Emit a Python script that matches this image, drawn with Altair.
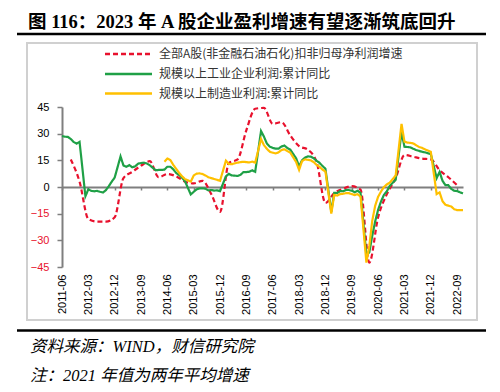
import altair as alt
import pandas as pd

# ---------------- text ----------------
title_text = "图 116：2023 年 A 股企业盈利增速有望逐渐筑底回升"
source_text = "资料来源：WIND，财信研究院"
note_text = "注：2021 年值为两年平均增速"

s_red = "全部A股(非金融石油石化)扣非归母净利润增速"
s_green = "规模以上工业企业利润:累计同比"
s_yellow = "规模以上制造业利润:累计同比"
series_names = [s_red, s_green, s_yellow]

# ---------------- data ----------------
# quarterly: 2011-09 ... 2022-09
red_values = [15.5, 3.0,
              -18.0, -19.5, -19.5, -17.0,
              5.0, 8.5, 12.0, 14.5,
              5.5, 7.3, 6.0, 3.0,
              2.0, 3.5, -4.0, -14.0,
              13.5, 15.5, 32.0, 44.0,
              44.5, 35.5, 36.5, 29.0,
              23.0, 21.0, 14.0, -9.0,
              -3.5, -1.0, 0.5, -1.5,
              -42.5, -17.0, -4.0, 5.0,
              18.0, 17.0, 16.0, 15.5,
              9.5, 5.5, 1.0]

# monthly (no January): 2011-06 ... 2022-11
green_values = [28.7, 28.3, 28.2, 27.0, 25.3, 24.4, 25.4,
                -5.2, -1.3, -2.2, -2.4, -2.2, -2.7, -3.1, -1.8, 0.5, 3.0, 5.3,
                17.2, 12.1, 11.4, 12.3, 11.1, 11.6, 13.1, 13.5, 13.7, 13.2, 12.2,
                9.4, 9.6, 9.6, 9.8, 11.4, 11.4, 10.0, 7.9, 6.7, 5.3, 3.3,
                -4.2, -2.7, -1.3, -0.8, -0.7, -1.0, -1.9, -1.7, -2.0, -1.9, -2.3,
                6.0, 7.4, 6.5, 6.4, 6.2, 6.9, 8.4, 8.4, 8.6, 9.4, 8.5,
                31.5, 28.3, 24.4, 22.7, 22.0, 21.6, 21.6, 22.8, 23.3, 21.9, 21.0,
                16.1, 11.6, 15.0, 16.5, 17.2, 17.1, 16.2, 14.7, 13.6, 11.8, 10.3,
                -14.0, -3.3, -3.4, -2.3, -2.4, -1.7, -1.7, -2.1, -2.9, -2.1, -3.3,
                -38.3, -36.7, -27.4, -19.3, -12.8, -8.1, -4.4, -2.4, 0.7, 2.4, 4.1,
                31.0, 22.6, 22.5, 22.3, 21.5, 20.8, 20.3, 19.8, 19.5, 19.0, 18.6,
                5.0, 8.5, 3.5, 1.0, 1.0, -1.1, -2.1, -2.3, -3.0, -3.6]

# monthly (no January): 2014-05 ... 2022-11
yellow_values = [14.2, 16.0, 15.2, 12.5, 10.2, 8.0, 6.0, 4.5,
                 3.0, 6.5, 7.5, 7.7, 7.3, 6.5, 5.5, 5.0, 4.5, 4.0, 3.5,
                 14.8, 13.0, 12.8, 13.3, 13.7, 14.0, 14.2, 14.0, 13.8, 14.3, 13.7,
                 27.0, 23.5, 21.5, 19.8, 19.3, 18.9, 19.5, 20.8, 21.2, 20.2, 19.3,
                 14.0, 9.6, 14.5, 15.5, 15.3, 15.0, 14.0, 12.4, 11.3, 9.8, 8.7,
                 -15.0, -4.5, -4.8, -4.0, -3.8, -3.5, -3.5, -4.0, -4.5, -4.0, -5.5,
                 -42.5, -33.0, -19.0, -10.5, -5.5, -2.5, 0.0, 1.5, 2.5, 4.5, 6.5,
                 35.5, 25.5, 25.0, 24.8, 24.5, 23.5, 22.5, 22.0, 21.2, 20.5, 19.8,
                 -4.0, -3.0, -8.0, -10.0, -10.5, -11.0, -12.5, -13.0, -13.0, -13.0]

y_ticks = [-45, -30, -15, 0, 15, 30, 45]


def months(start, end, step=1, skip_jan=False):
    out = []
    y, m = start
    while (y, m) <= end:
        if not (skip_jan and m == 1):
            out.append(y * 12 + m - 1)
        m += step
        while m > 12:
            m -= 12
            y += 1
    return out


red_idx = months((2011, 9), (2022, 9), step=3)
green_idx = months((2011, 6), (2022, 11), skip_jan=True)
yellow_idx = months((2014, 5), (2022, 11), skip_jan=True)
x_ticks = months((2011, 6), (2022, 9), step=9)

df_red = pd.DataFrame({"idx": red_idx, "value": red_values, "series": s_red})
df_gy = pd.concat([
    pd.DataFrame({"idx": green_idx, "value": green_values, "series": s_green}),
    pd.DataFrame({"idx": yellow_idx, "value": yellow_values, "series": s_yellow}),
])

RED = "#E8112D"
GREEN = "#1FA046"
YELLOW = "#FFC000"
GREY = "#7F7F7F"
BOX = "#D0D0D0"
COLORS = [RED, GREEN, YELLOW]
DASHES = [[5, 3], [1, 0], [1, 0]]

W, H = 401, 160

xscale = alt.Scale(domain=[2011 * 12 + 5, 2022 * 12 + 10], nice=False, zero=False)
yscale = alt.Scale(domain=[-45, 45], nice=False)

label_expr = ("floor(datum.value / 12) + '-' + "
              "((datum.value % 12) + 1 < 10 ? '0' : '') + ((datum.value % 12) + 1)")

x_enc = alt.X("idx:Q", scale=xscale, axis=alt.Axis(
    values=x_ticks, labelExpr=label_expr, title=None, grid=False,
    offset=-H / 2, domainColor=GREY, domainWidth=2,
    tickColor=GREY, tickSize=3, tickWidth=1.5,
    labelAngle=270, labelPadding=84, labelFontSize=11,
    labelFont="Liberation Sans", labelColor="#000000",
    labelOverlap=False, labelFlush=False, labelBound=False))

y_enc = alt.Y("value:Q", scale=yscale, axis=alt.Axis(
    values=y_ticks, title=None, grid=False,
    domainColor=GREY, domainWidth=2, tickColor=GREY, tickSize=5, tickWidth=1.5,
    labelPadding=8, labelFontSize=11, labelFont="Liberation Sans",
    labelColor=alt.condition("datum.value < 0", alt.value(RED), alt.value("#000000"))))

color_enc = alt.Color("series:N", scale=alt.Scale(domain=series_names, range=COLORS),
                      legend=None)
dash_enc = alt.StrokeDash("series:N", scale=alt.Scale(domain=series_names, range=DASHES),
                          legend=None)

red_line = alt.Chart(df_red).mark_line(strokeWidth=2.2, interpolate="monotone").encode(
    x=x_enc, y=y_enc, color=color_enc, strokeDash=dash_enc)
gy_line = alt.Chart(df_gy).mark_line(strokeWidth=2.2).encode(
    x=x_enc, y=y_enc, color=color_enc, strokeDash=dash_enc)

one = pd.DataFrame({"t": ["x"]})
top_rule = alt.Chart(one).mark_rule(color="#000000", strokeWidth=2.5).encode(
    x=alt.value(-45), x2=alt.value(424), y=alt.value(-73))
bottom_rule = alt.Chart(one).mark_rule(color="#000000", strokeWidth=2.5).encode(
    x=alt.value(-45), x2=alt.value(424), y=alt.value(223.5))

# grey frame drawn as four thin filled strips (pixel offsets from the plot origin)
edge_specs = [
    (-36, 416, -65, -63),   # top
    (-36, 416, 212, 214),   # bottom
    (-36, -34, -65, 214),   # left
    (414, 416, -65, 214),   # right
]
edge_layers = []
for i, (x1, x2, y1, y2) in enumerate(edge_specs):
    edge_layers.append(
        alt.Chart(pd.DataFrame({"edge": [i]})).mark_rect(color=BOX, opacity=1).encode(
            x=alt.value(x1), x2=alt.value(x2), y=alt.value(y1), y2=alt.value(y2)))

# manual legend
legend_rows = [-53, -33, -13.5]
legend_layers = []
for name, col, dash, ry in zip(series_names, COLORS, DASHES, legend_rows):
    ldf = pd.DataFrame({"t": [name]})
    legend_layers.append(
        alt.Chart(ldf).mark_rule(color=col, strokeWidth=2.5, strokeDash=dash).encode(
            x=alt.value(43), x2=alt.value(90), y=alt.value(ry)))
    legend_layers.append(
        alt.Chart(ldf).mark_text(align="left", baseline="middle", fontSize=12,
                                 font="Noto Sans CJK SC", color="#333333").encode(
            text="t:N", x=alt.value(97), y=alt.value(ry)))

title_mark = alt.Chart(pd.DataFrame({"t": [title_text]})).mark_text(
    align="left", baseline="middle", fontSize=18.5, fontWeight="bold",
    font="Liberation Serif, Noto Sans CJK SC", color="#000000").encode(
    text="t:N", x=alt.value(-34), y=alt.value(-85.5))

source_mark = alt.Chart(pd.DataFrame({"t": [source_text]})).mark_text(
    align="left", baseline="middle", fontSize=16.5, fontStyle="italic",
    font="Liberation Serif, Noto Sans CJK SC", color="#000000").encode(
    text="t:N", x=alt.value(-32), y=alt.value(240))

note_mark = alt.Chart(pd.DataFrame({"t": [note_text]})).mark_text(
    align="left", baseline="middle", fontSize=16.5, fontStyle="italic",
    font="Liberation Serif, Noto Sans CJK SC", color="#000000").encode(
    text="t:N", x=alt.value(-32), y=alt.value(269))

chart = alt.layer(
    top_rule, bottom_rule, title_mark, source_mark, note_mark,
    *legend_layers, red_line, gy_line, *edge_layers
).properties(
    width=W, height=H,
    padding={"left": 54, "top": 99, "right": 29, "bottom": 117},
    autosize=alt.AutoSizeParams(type="none"),
    background="#FFFFFF",
).configure_view(stroke=None)

chart.save("out.html", embed_options={"renderer": "svg", "actions": False})
